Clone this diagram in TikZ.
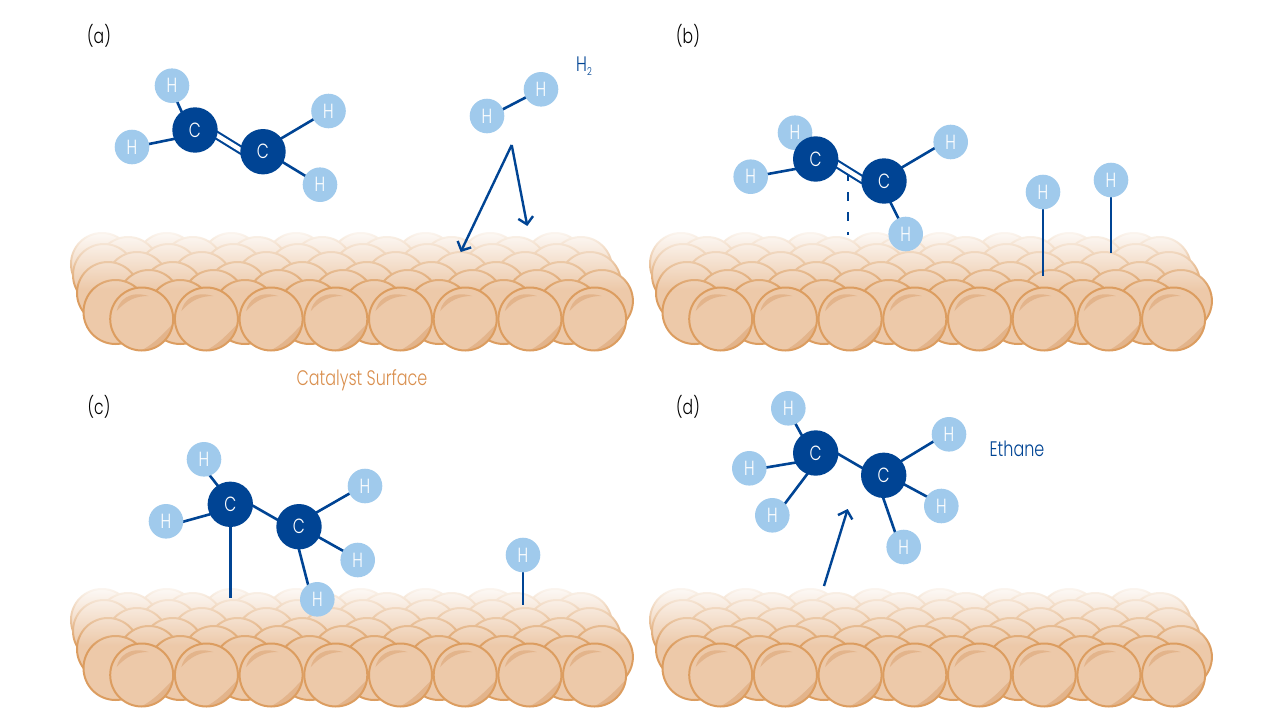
\documentclass[tikz,border=0pt]{standalone}
\usepackage{fontspec}
\setmainfont{Poppins}[UprightFont=* Light,FakeStretch=0.76]
\usetikzlibrary{arrows.meta,fadings}
\definecolor{cblue}{HTML}{004494}
\definecolor{hblue}{HTML}{A0CAEC}
\definecolor{cuedge}{HTML}{DC9D60}
\definecolor{cufill}{HTML}{EDC9A9}
\definecolor{cushade}{HTML}{E3B48B}
\definecolor{cutext}{HTML}{D98F4E}
\pgfdeclarelayer{surf}
\pgfdeclarelayer{bond}
\pgfsetlayers{surf,bond,main}
\tikzfading[name=surfade, top color=transparent!6, middle color=transparent!38, bottom color=transparent!100]
\tikzset{
  catom/.style={circle,fill=cblue,text=white,minimum size=45.4pt,inner sep=0pt,font=\fontsize{20.5}{20}\selectfont},
  hatom/.style={circle,fill=hblue,text=white,minimum size=34.6pt,inner sep=0pt,font=\fontsize{20.5}{20}\selectfont},
  bondline/.style={draw=cblue,line width=2.6pt,shorten <=-1.5pt,shorten >=-1.5pt},
  arrowline/.style={draw=cblue,line width=2.4pt,-{Straight Barb[length=7pt,width=15pt,line width=2.4pt]}},
  panellabel/.style={text=black,font=\fontsize{20.5}{20}\selectfont},
  cuball/.style={fill=cufill,draw=cuedge,line width=2pt},
}
% one row of eight balls: x0, y, radius
\newcommand\curow[3]{%
  \foreach \k in {0,...,7}{\path[cuball] ({#1+64.7*\k},#2) circle[radius=#3];}}
\newcommand\cusurface[2]{%
  \begin{scope}[shift={(#1,#2)}]
    \curow{102}{264}{31}
    \curow{128}{268}{31}
    \curow{104}{275}{31}
    \curow{137}{283}{31}
    \curow{108}{293}{31}
    \curow{149}{301}{31}
    \curow{115.5}{312}{32}
    \fill[white,path fading=surfade] (60,230) rectangle (640,290);
    \foreach \k in {0,...,7}{
      \begin{scope}[shift={({141.7+64.7*\k},319)}]
        \fill[cufill] (0,0) circle[radius=31.5];
        \begin{scope}
          \clip (0,0) circle[radius=31.5];
          \fill[cushade] (33,3) .. controls (20,16) and (12,26) .. (-4,33) -- (33,33) -- cycle;
        \end{scope}
        \fill[cushade] (-25,-8) .. controls (-23,-18) and (-13,-29) .. (7,-23) .. controls (-6,-23) and (-15,-19) .. cycle;
        \draw[cuedge,line width=2pt] (0,0) circle[radius=31.5];
      \end{scope}
    }
  \end{scope}}
\begin{document}
\begin{tikzpicture}[x=1pt,y=-1pt]
\useasboundingbox (0,0) rectangle (1280,720);
\begin{pgfonlayer}{surf}
  \cusurface{0}{0}
  \cusurface{579}{0}
  \cusurface{0}{356}
  \cusurface{579}{356}
\end{pgfonlayer}

\node[panellabel] (la) at (99,36) {(a)};
\node[panellabel] (lb) at (688,36) {(b)};
\node[panellabel] (lc) at (99,407) {(c)};
\node[panellabel] (ld) at (688,407) {(d)};
\node[text=cutext,font=\fontsize{21}{21}\selectfont] (cat) at (362,380) {Catalyst Surface};
\node[text=cblue,font=\fontsize{21}{21}\selectfont] (eth) at (1017,449) {Ethane};
\node[text=cblue,font=\fontsize{21}{21}\selectfont,anchor=west,inner sep=0pt] (h2l) at (576,66) {H\raisebox{-4pt}{\fontsize{11}{11}\selectfont 2}};

% panel a
\node[catom] (ac1) at (195,130) {C};
\node[catom] (ac2) at (263,151.7) {C};
\node[hatom] (ah1) at (172,85.7) {H};
\node[hatom] (ah2) at (132,147) {H};
\node[hatom] (ah3) at (328.5,111) {H};
\node[hatom] (ah4) at (320,184.7) {H};
\node[hatom] (ah5) at (487,116) {H};
\node[hatom] (ah6) at (541,89.3) {H};
\coordinate (aapex) at (511.7,145);
\coordinate (aend1) at (460.7,252);
\coordinate (aend2) at (527.3,226);

% panel b
\node[hatom] (bh1) at (795,132.7) {H};
\node[catom] (bc1) at (815.7,159) {C};
\node[catom] (bc2) at (884,181) {C};
\node[hatom] (bh2) at (750.7,176.7) {H};
\node[hatom] (bh3) at (950.7,142) {H};
\node[hatom] (bh4) at (905.7,234) {H};
\node[hatom] (bh5) at (1043,192) {H};
\node[hatom] (bh6) at (1111,180) {H};
\coordinate (bdash1) at (848,172);
\coordinate (bdash2) at (848,235);
\coordinate (bs5) at (1043,274);
\coordinate (bs6) at (1111,251);

% panel c
\node[catom] (cc1) at (230.3,504.3) {C};
\node[catom] (cc2) at (299,526.7) {C};
\node[hatom] (ch1) at (204,459.3) {H};
\node[hatom] (ch2) at (166,521.3) {H};
\node[hatom] (ch3) at (365,486) {H};
\node[hatom] (ch4) at (357.7,560) {H};
\node[hatom] (ch5) at (317.3,599.3) {H};
\node[hatom] (ch6) at (523,555) {H};
\coordinate (cs1) at (230.3,596);
\coordinate (cs6) at (523,603);

% panel d
\node[catom] (dc1) at (815.7,453) {C};
\node[catom] (dc2) at (883.7,475.3) {C};
\node[hatom] (dh1) at (788.3,408.3) {H};
\node[hatom] (dh2) at (749.3,468.3) {H};
\node[hatom] (dh3) at (772.3,515.3) {H};
\node[hatom] (dh4) at (949,434.3) {H};
\node[hatom] (dh5) at (941.3,506) {H};
\node[hatom] (dh6) at (903.7,547) {H};
\coordinate (dstart) at (824,586);
\coordinate (dtip) at (847.7,509);

\begin{pgfonlayer}{bond}
  \draw[draw=cblue,line width=2.4pt,dash pattern=on 9pt off 11pt] (bdash1) -- (bdash2);
  % double bonds
  \draw[cblue,line width=8.6pt,shorten <=-3pt,shorten >=-3pt] (ac1.-14) -- (ac2.175);
  \draw[white,line width=4.4pt,shorten <=-3pt,shorten >=-3pt] (ac1.-14) -- (ac2.175);
  \draw[cblue,line width=8.6pt,shorten <=-3pt,shorten >=-3pt] (bc1.-14) -- (bc2.175);
  \draw[white,line width=4.4pt,shorten <=-3pt,shorten >=-3pt] (bc1.-14) -- (bc2.175);
  \foreach \a/\b in {ac1.126/ah1.-72,ac1.203/ah2.10,ac2.36/ah3.209,ac2.-28/ah4.149,ah5.23/ah6.208,
                     bc1.126/bh1.-72,bc1.206/bh2.9,bc2.37/bh3.201,bc2.-73/bh4.115,bh5.center/bs5,bh6.center/bs6,
                     cc1.-4/cc2.162,cc1.124/ch1.-70,cc1.206/ch2.-1,cc2.39/ch3.206,cc2.-28/ch4.148,cc2.-90/ch5.122,cc1.center/cs1,ch6.center/cs6,
                     dc1.-3/dc2.161,dc1.128/dh1.-65,dc1.205/dh2.3,dc1.248/dh3.43,dc2.39/dh4.205,dc2.-24/dh5.147,dc2.-91/dh6.120}{
    \draw[bondline] (\a) -- (\b);
  }
\end{pgfonlayer}
\draw[arrowline] (aapex) -- (aend1);
\draw[arrowline] (aapex) -- (aend2);
\draw[arrowline] (dstart) -- (dtip);
\end{tikzpicture}
\end{document}
